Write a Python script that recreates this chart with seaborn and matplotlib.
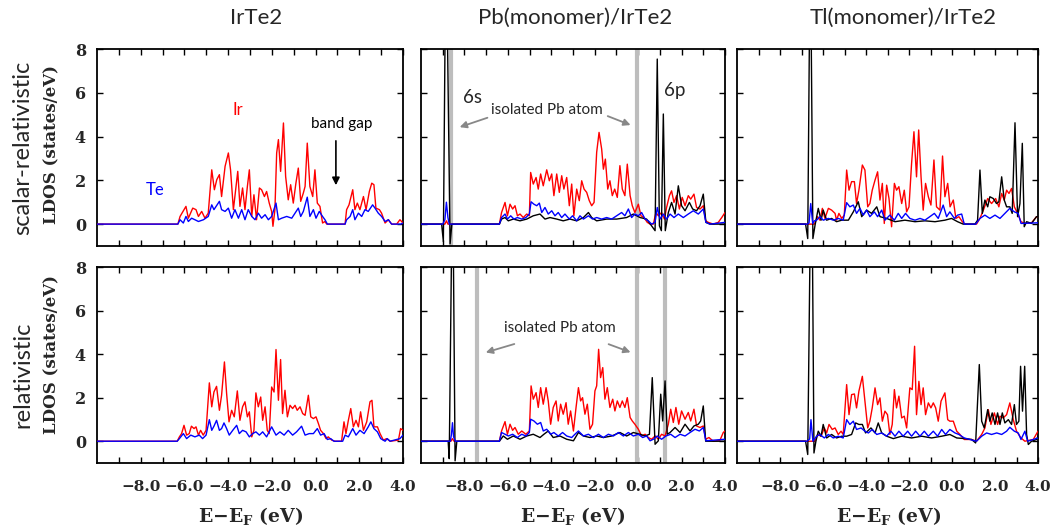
import numpy as np
import pandas as pd
import matplotlib
matplotlib.use("Agg")
import matplotlib.pyplot as plt
import seaborn as sns

# ---------------- data (energy E-E_F in eV, LDOS in states/eV) ----------------
columns = ["IrTe2", "Pb(monomer)/IrTe2", "Tl(monomer)/IrTe2"]
rows = ["scalar-relativistic", "relativistic"]

# scalar-relativistic, IrTe2
sr_irte2_ir = [(-10.0, 0), (-6.30, 0), (-6.20, 0.35), (-5.93, 0.81), (-5.82, 0.27), (-5.62, 0.73), (-5.47, 0.66),
               (-5.36, 0.35), (-5.21, 0.58), (-5.06, 0.27), (-4.91, 0.50), (-4.75, 2.48), (-4.63, 1.57), (-4.52, 2.03),
               (-4.40, 2.26), (-4.30, 1.26), (-4.14, 2.64), (-3.99, 3.25), (-3.89, 2.48), (-3.76, 0.66), (-3.56, 2.41),
               (-3.46, 0.81), (-3.34, 1.65), (-3.23, 0.66), (-3.12, 1.72), (-3.03, 2.48), (-2.92, 0.35), (-2.82, 1.34),
               (-2.70, 0.20), (-2.57, 1.65), (-2.47, 1.57), (-2.34, 1.26), (-2.24, 1.49), (-2.12, 0.96), (-2.01, 0.58),
               (-1.95, -0.1), (-1.86, 0.66), (-1.78, 3.25), (-1.70, 3.86), (-1.60, 2.41), (-1.47, 4.62), (-1.37, 2.18),
               (-1.25, 1.11), (-1.14, 1.80), (-1.02, 0.96), (-0.90, 1.87), (-0.79, 2.56), (-0.68, 1.04), (-0.56, 1.42),
               (-0.48, 1.72), (-0.38, 3.70), (-0.26, 1.72), (-0.13, 1.26), (-0.03, 2.48), (0.08, 0.96), (0.20, 0.81),
               (0.32, 0.05), (0.43, 0.12), (0.51, 0), (1.35, 0), (1.42, 0.66), (1.53, 0.88), (1.70, 1.57), (1.80, 0.66),
               (1.91, 0.96), (2.03, 0.66), (2.19, 1.26), (2.31, 0.66), (2.46, 1.49), (2.57, 1.87), (2.67, 1.80),
               (2.76, 0.73), (2.92, 0.66), (3.02, 0.50), (3.18, 0.05), (3.33, 0.20), (3.48, 0), (3.71, 0), (3.86, 0.20),
               (4.0, 0.05)]
sr_irte2_te = [(-10.0, 0), (-6.30, 0), (-6.20, 0.20), (-6.05, 0.05), (-5.93, 0.35), (-5.82, 0.12), (-5.67, 0.27),
               (-5.52, 0.20), (-5.36, 0.12), (-5.13, 0.20), (-4.91, 0.35), (-4.75, 0.88), (-4.65, 0.66), (-4.40, 1.04),
               (-4.30, 0.66), (-4.14, 0.58), (-3.99, 0.73), (-3.84, 0.27), (-3.69, 0.66), (-3.53, 0.27), (-3.38, 0.66),
               (-3.23, 0.20), (-3.08, 0.66), (-2.92, 0.35), (-2.77, 0.20), (-2.62, 0.50), (-2.47, 0.27), (-2.31, 0.43),
               (-2.16, 0.20), (-2.01, 0.35), (-1.81, 0.96), (-1.70, 0.20), (-1.55, 0.27), (-1.32, 0.35), (-1.09, 0.27),
               (-0.94, 0.50), (-0.79, 0.73), (-0.68, 0.35), (-0.56, 0.58), (-0.38, 1.23), (-0.26, 0.35), (-0.10, 0.66),
               (0.02, 0.27), (0.17, 0.58), (0.32, 0.35), (0.43, 0.20), (0.54, 0), (1.35, 0), (1.42, 0.20), (1.58, 0.35),
               (1.70, 0.66), (1.80, 0.20), (1.96, 0.50), (2.11, 0.35), (2.26, 0.66), (2.41, 0.58), (2.61, 0.88),
               (2.72, 0.73), (2.87, 0.50), (3.02, 0.35), (3.18, 0.12), (3.33, 0.20), (3.48, 0), (3.90, 0), (4.0, 0.05)]

# relativistic, IrTe2
r_irte2_ir = [(-10.0, 0), (-6.33, 0), (-6.23, 0.20), (-6.13, 0.35), (-6.02, 0.73), (-5.90, 0.28), (-5.78, 0.35),
              (-5.68, 0.69), (-5.56, 0.58), (-5.47, 0.66), (-5.36, 0.28), (-5.26, 0.50), (-5.14, 0.28), (-5.01, 0.50),
              (-4.86, 2.68), (-4.75, 1.58), (-4.65, 2.26), (-4.53, 2.52), (-4.40, 1.42), (-4.30, 2.11), (-4.17, 3.64),
              (-4.07, 2.19), (-3.96, 0.89), (-3.84, 1.42), (-3.72, 1.12), (-3.58, 2.31), (-3.46, 0.96), (-3.34, 1.58),
              (-3.23, 1.81), (-3.12, 1.12), (-3.03, 1.35), (-2.92, 0.20), (-2.82, 0.50), (-2.73, 2.22), (-2.62, 1.58),
              (-2.51, 2.03), (-2.42, 0.96), (-2.31, 1.58), (-2.21, 0.50), (-2.12, 0.35), (-2.01, 2.49), (-1.90, 2.26),
              (-1.81, 4.21), (-1.70, 1.88), (-1.60, 3.75), (-1.51, 1.27), (-1.40, 2.34), (-1.29, 1.12), (-1.17, 1.65),
              (-1.05, 1.50), (-0.94, 1.65), (-0.84, 1.42), (-0.71, 1.58), (-0.59, 1.27), (-0.48, 1.19), (-0.33, 2.11),
              (-0.22, 1.12), (-0.10, 1.04), (0.02, 1.12), (0.13, 0.81), (0.23, 0.50), (0.36, 0.35), (0.48, 0.12),
              (0.58, 0.20), (0.74, 0.05), (0.89, 0), (1.19, 0), (1.30, 0.89), (1.39, 0.35), (1.50, 0.96), (1.61, 1.50),
              (1.73, 0.66), (1.85, 0.96), (1.96, 0.66), (2.06, 1.35), (2.19, 0.50), (2.34, 0.89), (2.49, 1.81),
              (2.58, 1.88), (2.67, 0.66), (2.83, 0.66), (2.95, 0.35), (3.10, 0.05), (3.25, 0.12), (3.41, 0),
              (3.79, 0.05), (3.89, 0.58), (4.0, 0.50)]
r_irte2_te = [(-10.0, 0), (-6.33, 0), (-6.23, 0.12), (-6.05, 0.35), (-5.90, 0.12), (-5.71, 0.28), (-5.52, 0.20),
              (-5.32, 0.28), (-5.17, 0.12), (-5.01, 0.28), (-4.86, 0.99), (-4.75, 0.50), (-4.65, 0.69), (-4.53, 0.96),
              (-4.40, 0.50), (-4.30, 0.58), (-4.19, 0.84), (-4.07, 0.58), (-3.95, 0.28), (-3.79, 0.50), (-3.61, 0.73),
              (-3.49, 0.35), (-3.34, 0.50), (-3.18, 0.43), (-3.03, 0.20), (-2.88, 0.35), (-2.73, 0.43), (-2.57, 0.28),
              (-2.42, 0.43), (-2.24, 0.20), (-2.01, 0.66), (-1.81, 0.28), (-1.63, 0.43), (-1.44, 0.28), (-1.25, 0.50),
              (-1.05, 0.28), (-0.87, 0.43), (-0.64, 0.69), (-0.48, 0.28), (-0.29, 0.35), (-0.10, 0.35), (0.08, 0.58),
              (0.23, 0.28), (0.39, 0.35), (0.54, 0.08), (0.69, 0.12), (0.84, 0), (1.24, 0), (1.35, 0.28), (1.50, 0.20),
              (1.70, 0.58), (1.85, 0.28), (2.03, 0.50), (2.22, 0.35), (2.41, 0.66), (2.53, 0.89), (2.67, 0.58),
              (2.83, 0.43), (2.98, 0.12), (3.18, 0), (3.28, 0.12), (3.41, 0), (3.86, 0.12), (4.0, 0.28)]

# scalar-relativistic, Pb(monomer)/IrTe2
sr_pb_ir = [(-10.0, 0), (-8.90, 0), (-8.83, 0.15), (-8.76, 0), (-6.39, 0), (-6.29, 0.53), (-6.13, 0.99), (-6.02, 0.38),
            (-5.90, 0.91), (-5.78, 0.69), (-5.67, 0.84), (-5.56, 0.38), (-5.44, 0.46), (-5.29, 0.30), (-5.13, 0.46),
            (-5.01, 0.38), (-4.95, 2.36), (-4.83, 1.83), (-4.70, 2.13), (-4.60, 1.60), (-4.49, 2.29), (-4.37, 1.75),
            (-4.21, 2.48), (-4.09, 1.98), (-3.98, 2.29), (-3.88, 1.30), (-3.75, 2.29), (-3.63, 1.45), (-3.52, 2.21),
            (-3.42, 1.60), (-3.29, 2.13), (-3.17, 0.84), (-3.06, 1.83), (-2.96, 0.38), (-2.83, 1.60), (-2.71, 1.07),
            (-2.60, 1.98), (-2.49, 1.60), (-2.37, 1.45), (-2.25, 1.07), (-2.14, 0.84), (-2.03, 0.99), (-1.91, 3.28),
            (-1.80, 4.19), (-1.68, 3.43), (-1.60, 2.51), (-1.51, 2.97), (-1.40, 1.60), (-1.30, 1.98), (-1.19, 1.30),
            (-1.08, 1.60), (-0.96, 1.22), (-0.84, 2.67), (-0.73, 1.60), (-0.61, 1.30), (-0.50, 2.74), (-0.37, 1.30),
            (-0.27, 0.84), (-0.15, 0.53), (0.01, 0.91), (0.13, 0.38), (0.27, 0.30), (0.42, 0.08), (0.55, 0), (0.70, 0),
            (0.82, 0.53), (0.93, 0.38), (1.08, 0.53), (1.21, 0.23), (1.31, 0.76), (1.44, 1.30), (1.54, 1.52),
            (1.65, 0.99), (1.77, 1.30), (1.90, 0.69), (2.03, 1.22), (2.16, 0.84), (2.31, 1.30), (2.42, 1.14),
            (2.57, 1.37), (2.69, 0.76), (2.85, 0.69), (3.00, 0.84), (3.11, 0.15), (3.23, 0.08), (3.46, 0),
            (3.69, 0.08), (3.85, 0.30), (4.0, 0.53)]
sr_pb_te = [(-10.0, 0), (-9.00, 0), (-8.90, 0.20), (-8.83, 1.00), (-8.76, 0.30), (-8.70, 0), (-6.39, 0), (-6.29, 0.30),
            (-6.13, 0.46), (-6.02, 0.23), (-5.87, 0.38), (-5.72, 0.23), (-5.56, 0.30), (-5.36, 0.23), (-5.17, 0.30),
            (-5.01, 0.46), (-4.93, 1.02), (-4.80, 0.91), (-4.67, 0.84), (-4.55, 0.96), (-4.44, 0.53), (-4.29, 0.76),
            (-4.14, 0.46), (-3.98, 0.61), (-3.83, 0.38), (-3.68, 0.53), (-3.52, 0.30), (-3.37, 0.46), (-3.17, 0.23),
            (-3.02, 0.38), (-2.83, 0.15), (-2.68, 0.38), (-2.52, 0.23), (-2.29, 0.38), (-2.10, 0.23), (-1.91, 0.30),
            (-1.68, 0.23), (-1.45, 0.30), (-1.22, 0.23), (-0.99, 0.38), (-0.76, 0.53), (-0.61, 0.38), (-0.45, 0.69),
            (-0.30, 0.30), (-0.15, 0.46), (0.01, 0.38), (0.16, 0.53), (0.32, 0.23), (0.47, 0.15), (0.62, 0),
            (0.78, 0.08), (0.88, 0.76), (1.01, 0.23), (1.16, 0.46), (1.31, 0.23), (1.47, 0.46), (1.65, 0.30),
            (1.85, 0.46), (2.08, 0.30), (2.31, 0.46), (2.54, 0.61), (2.77, 0.46), (3.00, 0.69), (3.12, 0.08),
            (3.31, 0), (4.0, 0.08)]
sr_pb_pb = [(-10.0, 0), (-9.05, 0), (-8.97, -0.80), (-8.88, 10.0), (-8.80, 10.0), (-8.66, -0.90), (-8.58, 0),
            (-6.39, 0), (-6.29, 0.23), (-6.13, 0.30), (-5.98, 0.15), (-5.75, 0.23), (-5.44, 0.15), (-5.13, 0.23),
            (-4.83, 0.38), (-4.52, 0.46), (-4.29, 0.23), (-4.06, 0.30), (-3.75, 0.23), (-3.45, 0.15), (-3.14, 0.23),
            (-2.83, 0.15), (-2.52, 0.30), (-2.29, 0.53), (-2.14, 0.30), (-1.91, 0.15), (-1.45, 0.23), (-0.99, 0.23),
            (-0.53, 0.30), (-0.22, 0.46), (0.09, 0.30), (0.39, 0.23), (0.62, -0.08), (0.78, -0.30), (0.88, 7.54),
            (0.98, -0.08), (1.07, -0.30), (1.16, 5.03), (1.25, -0.30), (1.39, 0.53), (1.54, 0.99), (1.70, 0.46),
            (1.85, 1.75), (2.00, 0.84), (2.16, 0.61), (2.36, 0.99), (2.51, 0.69), (2.69, 0.61), (2.85, 0.84),
            (3.00, 1.37), (3.12, 0.08), (3.31, 0), (4.0, 0)]

# relativistic, Pb(monomer)/IrTe2
r_pb_ir = [(-10.0, 0), (-8.62, 0), (-8.55, 0.12), (-8.48, 0), (-6.39, 0), (-6.29, 0.47), (-6.13, 0.90), (-6.02, 0.32),
           (-5.90, 0.78), (-5.78, 0.50), (-5.67, 0.63), (-5.52, 0.32), (-5.36, 0.47), (-5.17, 0.32), (-5.01, 0.47),
           (-4.93, 2.54), (-4.83, 1.93), (-4.70, 2.23), (-4.60, 1.55), (-4.49, 2.46), (-4.37, 1.70), (-4.24, 2.46),
           (-4.14, 1.85), (-4.03, 0.78), (-3.91, 1.55), (-3.78, 1.85), (-3.68, 0.93), (-3.57, 1.70), (-3.45, 1.24),
           (-3.32, 1.77), (-3.22, 0.78), (-3.11, 1.39), (-2.98, 0.47), (-2.86, 1.55), (-2.75, 2.46), (-2.65, 1.85),
           (-2.56, 2.00), (-2.45, 1.24), (-2.34, 1.70), (-2.22, 0.55), (-2.10, 0.78), (-1.99, 2.31), (-1.91, 2.54),
           (-1.82, 4.22), (-1.73, 2.92), (-1.63, 3.38), (-1.53, 1.93), (-1.42, 2.46), (-1.30, 1.55), (-1.17, 1.93),
           (-1.07, 1.39), (-0.96, 1.85), (-0.84, 1.55), (-0.73, 1.85), (-0.61, 1.55), (-0.50, 2.00), (-0.37, 1.09),
           (-0.27, 0.93), (-0.15, 0.78), (0.01, 0.55), (0.16, 0.24), (0.32, 0.32), (0.47, 0.17), (0.62, 0.09),
           (0.78, 0.24), (0.93, 0.09), (1.08, 0.32), (1.24, 0.24), (1.39, 0.78), (1.50, 1.47), (1.62, 0.86),
           (1.74, 1.55), (1.87, 0.78), (2.00, 1.39), (2.16, 1.01), (2.31, 1.32), (2.42, 0.93), (2.57, 1.47),
           (2.69, 0.70), (2.85, 0.63), (3.00, 0.70), (3.11, 0.09), (3.26, 0.17), (3.46, 0), (3.77, 0.05),
           (3.92, 0.40), (4.0, 0.47)]
r_pb_te = [(-10.0, 0), (-8.65, 0), (-8.60, 0.30), (-8.55, 0.85), (-8.50, 0.20), (-8.42, 0), (-6.39, 0), (-6.29, 0.40),
           (-6.13, 0.32), (-5.98, 0.24), (-5.78, 0.32), (-5.56, 0.17), (-5.36, 0.32), (-5.17, 0.24), (-5.01, 0.40),
           (-4.95, 1.01), (-4.80, 0.93), (-4.64, 0.78), (-4.49, 0.86), (-4.37, 0.47), (-4.21, 0.55), (-4.03, 0.32),
           (-3.88, 0.40), (-3.68, 0.24), (-3.48, 0.40), (-3.29, 0.24), (-3.06, 0.17), (-2.91, 0.32), (-2.75, 0.47),
           (-2.52, 0.24), (-2.29, 0.32), (-2.06, 0.17), (-1.83, 0.32), (-1.60, 0.17), (-1.37, 0.32), (-1.14, 0.24),
           (-0.91, 0.40), (-0.68, 0.24), (-0.45, 0.40), (-0.22, 0.24), (0.01, 0.32), (0.21, 0.17), (0.39, 0.24),
           (0.55, 0.02), (0.70, 0.09), (0.88, 0.24), (1.08, 0.09), (1.28, 0.24), (1.50, 0.32), (1.70, 0.17),
           (1.93, 0.32), (2.16, 0.24), (2.39, 0.40), (2.62, 0.55), (2.82, 0.47), (3.00, 0.63), (3.12, 0.02),
           (4.0, 0.09)]
r_pb_pb = [(-10.0, 0), (-8.75, 0), (-8.70, -0.80), (-8.58, 10.0), (-8.52, 10.0), (-8.43, -0.90), (-8.35, 0),
           (-6.39, 0), (-6.21, 0.24), (-6.02, 0.09), (-5.75, 0.24), (-5.44, 0.09), (-5.13, 0.24), (-4.83, 0.32),
           (-4.52, 0.17), (-4.34, 0.32), (-4.14, 0.47), (-3.91, 0.17), (-3.60, 0.24), (-3.29, 0.09), (-2.98, 0.02),
           (-2.75, 0.40), (-2.52, 0.24), (-2.22, 0.17), (-1.91, 0.24), (-1.60, 0.17), (-1.22, 0.24), (-0.84, 0.40),
           (-0.53, 0.24), (-0.22, 0.40), (0.09, 0.32), (0.32, 0.24), (0.52, 0.32), (0.65, 2.92), (0.78, -0.14),
           (0.93, 0.02), (1.04, 2.16), (1.13, 0.93), (1.24, 2.77), (1.34, 0.32), (1.47, 0.40), (1.70, 0.63),
           (1.93, 0.40), (2.16, 0.78), (2.39, 0.47), (2.57, 0.70), (2.77, 0.78), (2.88, 0.93), (3.00, 1.62),
           (3.11, 0), (4.0, 0)]

# scalar-relativistic, Tl(monomer)/IrTe2
sr_tl_ir = [(-10.0, 0), (-6.40, 0), (-6.25, 0.34), (-6.14, 0.18), (-6.03, 0.72), (-5.91, 0.26), (-5.75, 0.72),
            (-5.60, 0.64), (-5.44, 0.49), (-5.37, 0.18), (-5.26, 0.49), (-5.13, 0.26), (-5.01, 0.41), (-4.90, 2.47),
            (-4.79, 1.55), (-4.67, 1.94), (-4.54, 1.94), (-4.44, 0.94), (-4.33, 1.55), (-4.17, 2.70), (-4.05, 2.47),
            (-3.92, 0.79), (-3.82, 0.94), (-3.71, 1.55), (-3.58, 2.01), (-3.46, 2.39), (-3.35, 1.10), (-3.24, 1.86),
            (-3.15, 0.03), (-3.04, 1.78), (-2.93, 1.17), (-2.81, -0.12), (-2.68, 1.86), (-2.58, 1.55), (-2.47, 1.71),
            (-2.34, 0.94), (-2.22, 1.55), (-2.11, 0.56), (-2.00, 0.79), (-1.88, 2.77), (-1.77, 4.22), (-1.65, 2.16),
            (-1.55, 4.30), (-1.44, 2.16), (-1.34, 0.64), (-1.23, 1.86), (-1.10, 1.25), (-0.98, 0.87), (-0.84, 2.93),
            (-0.72, 0.79), (-0.56, 0.64), (-0.44, 3.11), (-0.33, 1.25), (-0.20, 1.86), (-0.09, 0.79), (0.06, 1.10),
            (0.18, 0.26), (0.32, 0.34), (0.48, 0.11), (0.60, 0), (1.14, 0), (1.30, 0.26), (1.46, 0.64), (1.66, 1.17),
            (1.84, 0.94), (2.03, 1.17), (2.18, 0.79), (2.31, 1.40), (2.43, 1.10), (2.54, 1.55), (2.65, 1.40),
            (2.77, 1.63), (2.90, 0.79), (3.05, 0.49), (3.21, 0.11), (3.39, 0.03), (3.70, 0.06), (3.93, 0.34),
            (4.0, 0.34)]
sr_tl_te = [(-10.0, 0), (-6.75, 0), (-6.65, 0.05), (-6.57, 0.94), (-6.48, 0.03), (-6.40, 0.15), (-6.30, 0.18),
            (-6.14, 0.34), (-5.99, 0.18), (-5.75, 0.26), (-5.52, 0.18), (-5.29, 0.26), (-5.06, 0.18), (-4.90, 0.98),
            (-4.75, 0.79), (-4.59, 0.87), (-4.44, 0.49), (-4.28, 0.72), (-4.13, 0.41), (-3.97, 0.64), (-3.82, 0.34),
            (-3.61, 0.56), (-3.46, 0.34), (-3.27, 0.64), (-3.12, 0.18), (-2.89, 0.41), (-2.68, 0.18), (-2.50, 0.49),
            (-2.34, 0.26), (-2.16, 0.49), (-1.96, 0.26), (-1.72, 0.18), (-1.49, 0.26), (-1.26, 0.18), (-1.03, 0.34),
            (-0.82, 0.49), (-0.64, 0.26), (-0.41, 0.87), (-0.25, 0.34), (-0.10, 0.56), (0.11, 0.26), (0.26, 0.41),
            (0.45, 0.46), (0.57, 0), (1.10, 0), (1.30, 0.26), (1.53, 0.41), (1.76, 0.26), (2.00, 0.41), (2.23, 0.26),
            (2.46, 0.49), (2.69, 0.72), (2.90, 0.56), (3.08, 0.49), (3.21, 0.03), (4.0, 0.06)]
sr_tl_tl = [(-10.0, 0), (-6.81, 0), (-6.71, -0.66), (-6.62, 10.0), (-6.56, 10.0), (-6.47, -0.66), (-6.37, -0.05),
            (-6.22, 0.72), (-6.09, 0.18), (-5.99, 0.64), (-5.83, 0.18), (-5.60, 0.26), (-5.37, 0.11), (-5.13, 0.18),
            (-4.82, 0.18), (-4.59, 0.56), (-4.36, 1.02), (-4.20, 0.34), (-3.97, 0.64), (-3.74, 0.49), (-3.50, 0.79),
            (-3.35, 0.34), (-3.04, 0.26), (-2.65, 0.11), (-2.19, 0.18), (-1.72, 0.11), (-1.26, 0.15), (-0.79, 0.11),
            (-0.33, 0.18), (-0.02, 0.26), (0.26, 0.11), (0.52, 0), (1.07, 0), (1.19, 0.18), (1.30, 2.47), (1.41, 0.49),
            (1.53, 1.10), (1.66, 0.79), (1.76, 1.25), (1.92, 1.17), (2.07, 0.94), (2.18, 1.02), (2.31, 2.16),
            (2.43, 1.10), (2.54, 0.79), (2.69, 0.79), (2.80, 0.49), (2.93, 4.63), (3.05, 0.34), (3.16, 0.94),
            (3.27, 3.69), (3.36, -0.12), (3.47, 0.11), (3.70, 0.03), (3.93, 0.34), (4.0, 0.34)]

# relativistic, Tl(monomer)/IrTe2
r_tl_ir = [(-10.0, 0), (-6.37, 0), (-6.25, 0.31), (-6.09, 0.23), (-5.94, 0.61), (-5.83, 0.38), (-5.72, 0.77),
           (-5.57, 0.54), (-5.44, 0.61), (-5.29, 0.31), (-5.16, 0.46), (-5.06, 0.31), (-4.90, 2.60), (-4.79, 1.22),
           (-4.67, 2.14), (-4.54, 2.17), (-4.44, 1.53), (-4.33, 2.30), (-4.17, 2.98), (-4.05, 1.84), (-3.92, 0.61),
           (-3.82, 0.92), (-3.71, 1.53), (-3.58, 2.45), (-3.46, 1.68), (-3.35, 1.99), (-3.24, 0.92), (-3.12, 1.38),
           (-3.00, 1.22), (-2.89, 0.31), (-2.78, 0.77), (-2.68, 2.37), (-2.58, 1.53), (-2.47, 2.07), (-2.34, 1.07),
           (-2.22, 1.15), (-2.11, 0.61), (-1.96, 2.45), (-1.85, 2.37), (-1.74, 4.36), (-1.65, 1.22), (-1.54, 2.75),
           (-1.44, 1.68), (-1.34, 2.45), (-1.23, 1.22), (-1.10, 1.76), (-0.98, 1.53), (-0.87, 1.76), (-0.76, 1.53),
           (-0.64, 0.92), (-0.51, 1.84), (-0.33, 2.22), (-0.20, 0.99), (-0.10, 0.92), (0.06, 0.92), (0.22, 0.46),
           (0.37, 0.31), (0.57, 0.08), (0.91, 0.08), (1.14, 0), (1.38, 0.31), (1.53, 0.61), (1.69, 1.45),
           (1.81, 0.77), (1.97, 1.30), (2.12, 0.77), (2.23, 1.15), (2.38, 1.07), (2.54, 1.22), (2.69, 1.76),
           (2.85, 0.99), (3.00, 0.46), (3.21, 0.15), (3.39, 0), (3.78, 0.08), (4.0, 0.46)]
r_tl_te = [(-10.0, 0), (-6.75, 0), (-6.62, 0.10), (-6.56, 0.99), (-6.47, 0), (-6.30, 0.23), (-6.14, 0.31),
           (-5.94, 0.15), (-5.75, 0.31), (-5.52, 0.15), (-5.29, 0.23), (-5.06, 0.15), (-4.90, 0.99), (-4.75, 0.77),
           (-4.59, 0.92), (-4.44, 0.54), (-4.23, 0.61), (-4.05, 0.46), (-3.89, 0.38), (-3.71, 0.54), (-3.50, 0.31),
           (-3.27, 0.38), (-3.04, 0.23), (-2.84, 0.46), (-2.65, 0.23), (-2.47, 0.46), (-2.27, 0.23), (-2.06, 0.46),
           (-1.88, 0.23), (-1.69, 0.46), (-1.49, 0.23), (-1.29, 0.46), (-1.10, 0.23), (-0.87, 0.46), (-0.67, 0.23),
           (-0.48, 0.54), (-0.30, 0.31), (-0.10, 0.54), (0.14, 0.38), (0.32, 0.31), (0.57, 0.15), (0.83, 0.08),
           (1.14, 0), (1.38, 0.23), (1.61, 0.38), (1.84, 0.31), (2.08, 0.38), (2.31, 0.31), (2.54, 0.46),
           (2.69, 0.64), (2.90, 0.46), (3.08, 0.38), (3.21, 0.08), (3.39, 0.46), (3.52, 0), (4.0, 0.15)]
r_tl_tl = [(-10.0, 0), (-6.81, 0), (-6.71, -0.61), (-6.59, 10.0), (-6.50, 10.0), (-6.42, -0.54), (-6.33, 0),
           (-6.22, 0.46), (-6.09, 0.23), (-5.99, 0.77), (-5.83, 0.15), (-5.60, 0.31), (-5.37, 0.15), (-5.13, 0.23),
           (-4.90, 0.23), (-4.67, 0.31), (-4.48, 0.84), (-4.33, 0.77), (-4.17, 0.77), (-4.02, 0.38), (-3.77, 0.61),
           (-3.58, 0.38), (-3.43, 0.84), (-3.27, 0.38), (-3.04, 0.23), (-2.73, 0.12), (-2.34, 0.23), (-1.88, 0.15),
           (-1.41, 0.23), (-0.95, 0.15), (-0.48, 0.23), (-0.10, 0.31), (0.22, 0.15), (0.60, 0.12), (0.91, 0.08),
           (1.10, -0.08), (1.27, 3.52), (1.38, 0.92), (1.50, 0.61), (1.66, 1.45), (1.76, 0.92), (1.87, 1.30),
           (2.00, 0.77), (2.12, 1.30), (2.23, 0.77), (2.34, 1.30), (2.46, 0.84), (2.62, 0.99), (2.77, 0.77),
           (2.90, 1.68), (3.00, 0.77), (3.11, 0.92), (3.19, 3.44), (3.28, 1.38), (3.38, 3.44), (3.47, 0.31),
           (3.55, -0.15), (3.70, 0), (3.93, 0.08), (4.0, 0.23)]

# positions of isolated-atom levels (gray bars)
sr_pb_atom_levels = [-8.60, -0.05]
r_pb_atom_levels = [-7.41, -0.06, 1.24]

x_major = [-8, -6, -4, -2, 0, 2, 4]
x_minor = [-9, -7, -5, -3, -1, 1, 3]
y_ticks = [0, 2, 4, 6, 8]

panels = {
    (0, 0): [("Ir", sr_irte2_ir), ("Te", sr_irte2_te)],
    (0, 1): [("Ir", sr_pb_ir), ("Pb", sr_pb_pb), ("Te", sr_pb_te)],
    (0, 2): [("Ir", sr_tl_ir), ("Tl", sr_tl_tl), ("Te", sr_tl_te)],
    (1, 0): [("Ir", r_irte2_ir), ("Te", r_irte2_te)],
    (1, 1): [("Ir", r_pb_ir), ("Pb", r_pb_pb), ("Te", r_pb_te)],
    (1, 2): [("Ir", r_tl_ir), ("Tl", r_tl_tl), ("Te", r_tl_te)],
}
colors = {"Ir": "#ff0000", "Te": "#0000ff", "Pb": "#000000", "Tl": "#000000"}

# ---------------- styling ----------------
sns.set_style("ticks")
plt.rcParams["font.family"] = ["DejaVu Serif"]
plt.rcParams["mathtext.fontset"] = "custom"
plt.rcParams["mathtext.rm"] = "DejaVu Serif:bold"
plt.rcParams["mathtext.bf"] = "DejaVu Serif:bold"
plt.rcParams["axes.unicode_minus"] = True

W, H = 1056, 532
fig = plt.figure(figsize=(W / 100, H / 100), dpi=100)

col_px = [(97, 306), (421, 304), (737, 301)]
row_px = [(49, 246), (267, 463)]

SANS = "Lato"
axes = {}
for (r, c), curves in panels.items():
    x0, w = col_px[c]
    top, bot = row_px[r]
    ax = fig.add_axes([x0 / W, 1 - bot / H, w / W, (bot - top) / H])
    axes[(r, c)] = ax
    if c == 1:
        levels = sr_pb_atom_levels if r == 0 else r_pb_atom_levels
        for lv in levels:
            ax.axvline(lv, color="#bdbdbd", lw=3.0, zorder=1)
    for name, pts in curves:
        df = pd.DataFrame(pts, columns=["E", "LDOS"])
        sns.lineplot(data=df, x="E", y="LDOS", ax=ax, color=colors[name], linewidth=1.0,
                     estimator=None, sort=False, zorder=3)
    ax.set_xlim(-10, 4)
    ax.set_ylim(-1, 8)
    ax.set_xticks(x_major)
    ax.set_xticks(x_minor, minor=True)
    ax.set_yticks(y_ticks)
    ax.tick_params(axis="both", which="both", direction="in", top=True, right=True,
                   length=4.5, width=1.0, color="black")
    ax.tick_params(axis="x", which="major", pad=12)
    ax.tick_params(axis="y", which="major", pad=8)
    if r == 1:
        ax.set_xticklabels([f"{v:.1f}".replace("-", "\u2212") for v in x_major],
                           fontsize=11, fontweight="bold", family="DejaVu Serif")
    else:
        ax.set_xticklabels([])
    if c == 0:
        ax.set_yticklabels([str(v) for v in y_ticks], fontsize=11.5, fontweight="bold", family="DejaVu Serif")
    else:
        ax.set_yticklabels([])
    ax.set_xlabel("")
    ax.set_ylabel("")
    for sp in ax.spines.values():
        sp.set_visible(True)
        sp.set_linewidth(1.3)
        sp.set_color("black")

# column titles
for x, t in zip([256, 575, 903], columns):
    fig.text(x / W, 1 - 18 / H, t, ha="center", va="center", fontsize=16, family=SANS)

# x labels
for x in [251, 573, 889]:
    fig.text(x / W, 1 - 517 / H, r"E$-$E$_\mathrm{F}$ (eV)", ha="center", va="center",
             fontsize=13.5, fontweight="bold", family="DejaVu Serif")

# y labels
fig.text(23 / W, 1 - 148 / H, rows[0], rotation=90, ha="center", va="center", fontsize=17, family=SANS)
fig.text(52 / W, 1 - 144 / H, "LDOS (states/eV)", rotation=90, ha="center", va="center",
         fontsize=12, fontweight="bold", family="DejaVu Serif")
fig.text(23 / W, 1 - 375 / H, rows[1], rotation=90, ha="center", va="center", fontsize=17, family=SANS)
fig.text(52 / W, 1 - 354 / H, "LDOS (states/eV)", rotation=90, ha="center", va="center",
         fontsize=12, fontweight="bold", family="DejaVu Serif")

# annotations
a = axes[(0, 0)]
a.text(-3.55, 5.2, "Ir", color="#ff0000", fontsize=12, family=SANS, ha="center", va="center")
a.text(-7.35, 1.55, "Te", color="#0000ff", fontsize=12, family=SANS, ha="center", va="center")
a.text(1.21, 4.57, "band gap", color="black", fontsize=11, family=SANS, ha="center", va="center")
a.annotate("", xy=(0.93, 1.65), xytext=(0.93, 3.93),
           arrowprops=dict(arrowstyle="-|>", color="black", lw=1.2, mutation_scale=11))

a = axes[(0, 1)]
a.text(-7.65, 5.8, "6s", fontsize=13.5, family=SANS, ha="center", va="center")
a.text(1.70, 6.1, "6p", fontsize=13.5, family=SANS, ha="center", va="center")
a.text(-4.2, 5.2, "isolated Pb atom", fontsize=11, family=SANS, ha="center", va="center")
a.annotate("", xy=(-8.34, 4.39), xytext=(-6.82, 4.90),
           arrowprops=dict(arrowstyle="-|>", color="#888888", lw=1.3, mutation_scale=10))
a.annotate("", xy=(-0.23, 4.48), xytext=(-1.52, 4.98),
           arrowprops=dict(arrowstyle="-|>", color="#888888", lw=1.3, mutation_scale=10))

a = axes[(1, 1)]
a.text(-3.6, 5.2, "isolated Pb atom", fontsize=11, family=SANS, ha="center", va="center")
a.annotate("", xy=(-7.14, 4.04), xytext=(-5.58, 4.50),
           arrowprops=dict(arrowstyle="-|>", color="#888888", lw=1.3, mutation_scale=10))
a.annotate("", xy=(-0.23, 4.04), xytext=(-1.48, 4.50),
           arrowprops=dict(arrowstyle="-|>", color="#888888", lw=1.3, mutation_scale=10))

fig.savefig("out.png", dpi=100)
